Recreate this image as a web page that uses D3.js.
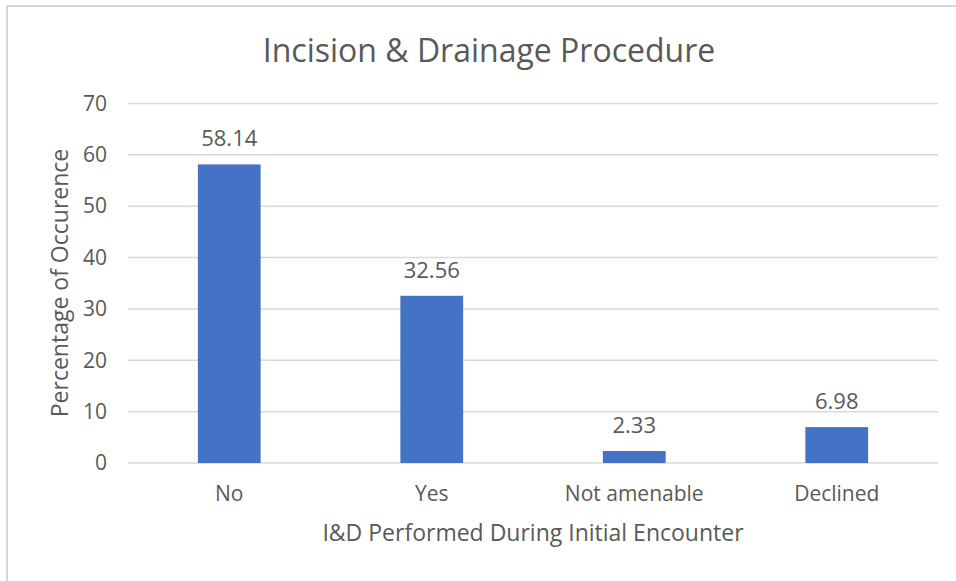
<!DOCTYPE html>
<html>
<head>
<meta charset="utf-8">
<script src="https://cdn.jsdelivr.net/npm/d3@7"></script>
<style>
  body { margin: 0; background: #fff; }
  text { font-family: "Open Sans", sans-serif; fill: #595959; }
</style>
</head>
<body>
<div id="chart"></div>
<script>
/* DATA */
const categories = ["No", "Yes", "Not amenable", "Declined"];
const values = [58.14, 32.56, 2.33, 6.98];
const yTicks = [0, 10, 20, 30, 40, 50, 60, 70];

const chartTitle = "Incision & Drainage Procedure";
const xTitle = "I&D Performed During Initial Encounter";
const yTitle = "Percentage of Occurence";

/* CONSTANTS */
const width = 956,
  height = 581,
  margin = {top: 103.5, bottom: 118, left: 128, right: 18};

const svg = d3.select("#chart")
  .append("svg")
  .attr("width", width)
  .attr("height", height);

// chart area border (top + left visible)
svg.append("path")
  .attr("d", `M7,${height} V6 H${width}`)
  .attr("fill", "none")
  .attr("stroke", "#d9d9d9")
  .attr("stroke-width", 2);

// scales
const xScale = d3.scaleBand()
  .domain(categories)
  .range([margin.left, width - margin.right])
  .paddingInner(0.69)
  .paddingOuter(0.345);

const yScale = d3.scaleLinear()
  .domain([0, 70])
  .range([height - margin.bottom, margin.top]);

// gridlines
svg.append("g")
  .selectAll("line")
  .data(yTicks)
  .join("line")
  .attr("x1", margin.left)
  .attr("x2", width - margin.right)
  .attr("y1", d => yScale(d))
  .attr("y2", d => yScale(d))
  .attr("stroke", "#d9d9d9")
  .attr("stroke-width", 1.5);

// y axis
const yAxis = d3.axisLeft(yScale)
  .tickValues(yTicks)
  .tickSize(0)
  .tickPadding(21);

svg.append("g")
  .attr("class", "yAxis")
  .attr("transform", `translate(${margin.left},0)`)
  .call(yAxis)
  .call(g => g.select(".domain").remove())
  .call(g => g.selectAll("text")
    .attr("font-size", 21)
    .attr("font-family", "Open Sans")
    .attr("fill", "#595959"));

// x axis
const xAxis = d3.axisBottom(xScale)
  .tickSize(0)
  .tickPadding(23);

svg.append("g")
  .attr("class", "xAxis")
  .attr("transform", `translate(0,${height - margin.bottom})`)
  .call(xAxis)
  .call(g => g.select(".domain").remove())
  .call(g => g.selectAll("text")
    .attr("font-size", 21)
    .attr("font-family", "Open Sans")
    .attr("fill", "#595959"));

// bars
svg.selectAll(".bar")
  .data(values)
  .join("rect")
  .attr("class", "bar")
  .attr("x", (d, i) => xScale(categories[i]))
  .attr("width", xScale.bandwidth())
  .attr("y", d => yScale(d))
  .attr("height", d => yScale(0) - yScale(d))
  .attr("fill", "#4472c4");

// data labels
svg.selectAll(".label")
  .data(values)
  .join("text")
  .attr("class", "label")
  .attr("x", (d, i) => xScale(categories[i]) + xScale.bandwidth() / 2)
  .attr("y", d => yScale(d) - 18)
  .attr("text-anchor", "middle")
  .attr("font-size", 22)
  .text(d => d.toFixed(2));

// titles
svg.append("text")
  .attr("x", 489)
  .attr("y", 62)
  .attr("text-anchor", "middle")
  .attr("font-size", 32)
  .text(chartTitle);

svg.append("text")
  .attr("x", (margin.left + width - margin.right) / 2)
  .attr("y", 541)
  .attr("text-anchor", "middle")
  .attr("font-size", 23)
  .text(xTitle);

svg.append("text")
  .attr("transform", `translate(68,283) rotate(-90)`)
  .attr("text-anchor", "middle")
  .attr("font-size", 23)
  .text(yTitle);
</script>
</body>
</html>
